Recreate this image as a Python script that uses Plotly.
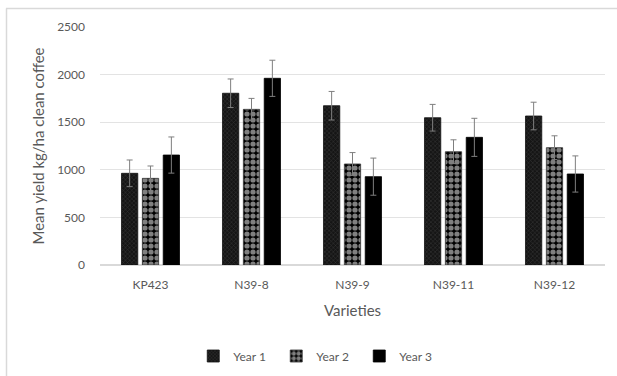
import plotly.graph_objects as go

categories = ["KP423", "N39-8", "N39-9", "N39-11", "N39-12"]
year1 = [963, 1804, 1673, 1547, 1565]
year1_err = [140, 150, 150, 140, 145]
year2 = [910, 1635, 1061, 1190, 1232]
year2_err = [130, 115, 120, 125, 125]
year3 = [1155, 1961, 928, 1341, 956]
year3_err = [190, 190, 195, 200, 190]
series_names = ["Year 1", "Year 2", "Year 3"]

W, H = 617, 376
ml, mr, mt, mb = 100, 12, 27, 111
pw, ph = W - ml - mr, H - mt - mb

def px_x(x):
    return (x - ml) / pw

def px_y(y):
    return (H - mb - y) / ph

err_style = dict(type="data", symmetric=True, color="#7f7f7f", thickness=1, width=3)

fig = go.Figure()
fig.add_trace(go.Bar(
    x=categories, y=year1, name=series_names[0],
    error_y=dict(array=year1_err, **err_style),
    marker=dict(color="#222222", line=dict(color="#111111", width=0.8),
                pattern=dict(shape="x", fgcolor="#5a5a5a", bgcolor="#151515", size=3, solidity=0.3)),
))
fig.add_trace(go.Bar(
    x=categories, y=year2, name=series_names[1],
    error_y=dict(array=year2_err, **err_style),
    marker=dict(color="#000000", line=dict(color="#333333", width=0.8),
                pattern=dict(shape=".", fgcolor="#ffffff", bgcolor="#000000", size=6, solidity=0.6)),
))
fig.add_trace(go.Bar(
    x=categories, y=year3, name=series_names[2],
    error_y=dict(array=year3_err, **err_style),
    marker=dict(color="#000000", line=dict(color="#000000", width=0.8)),
))

font_family = "Lato, Open Sans, sans-serif"
fig.update_layout(
    width=W, height=H,
    margin=dict(l=ml, r=mr, t=mt, b=mb, autoexpand=False),
    paper_bgcolor="white", plot_bgcolor="white",
    barmode="group", bargap=0.38, bargroupgap=0.22,
    font=dict(family=font_family, size=12, color="#595959"),
    showlegend=True,
    legend=dict(orientation="h", xref="container", yref="container",
                x=0.515, xanchor="center", y=1 - 356 / H, yanchor="middle",
                font=dict(size=12, color="#595959"), itemwidth=30,
                entrywidth=38, entrywidthmode="pixels", traceorder="normal"),
    xaxis=dict(
        showline=True, linecolor="#d9d9d9", linewidth=1, ticks="",
        tickfont=dict(size=12, color="#595959"), ticklabelstandoff=9,
        title=dict(text="Varieties", font=dict(size=15, color="#595959"), standoff=14),
    ),
    yaxis=dict(
        range=[0, 2500], dtick=500, showgrid=True, gridcolor="#e3e3e3", gridwidth=1,
        zeroline=True, zerolinecolor="#d9d9d9", showline=False, ticks="",
        tickfont=dict(size=12, color="#595959"), ticklabelstandoff=14,
        title=dict(text="Mean yield kg/ha clean coffee", font=dict(size=15, color="#595959"), standoff=8),
    ),
    shapes=[
        dict(type="line", xref="paper", yref="paper", x0=px_x(6), x1=px_x(640),
             y0=px_y(8.5), y1=px_y(8.5), line=dict(color="#d9d9d9", width=1.5)),
        dict(type="line", xref="paper", yref="paper", x0=px_x(6.5), x1=px_x(6.5),
             y0=px_y(8.5), y1=px_y(400), line=dict(color="#d9d9d9", width=1.5)),
    ],
)

fig.write_html("out.html", config={"displayModeBar": False},
               post_script="document.body.style.margin='0';")
